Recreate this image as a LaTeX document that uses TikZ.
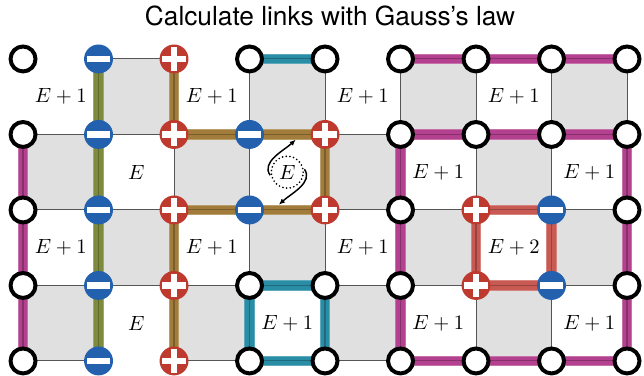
\documentclass[tikz,border=0pt]{standalone}
\usepackage{fontspec}
\newfontfamily\titlefont{TeX Gyre Heros}
\usepackage{xcolor}
\definecolor{cCell}{HTML}{E0E0E0}
\definecolor{cGrid}{HTML}{555555}
\definecolor{cPlus}{HTML}{BE3A2E}
\definecolor{cMinus}{HTML}{2360AE}
\definecolor{cOlive}{HTML}{7E8B3C}
\definecolor{cBrown}{HTML}{A27C3A}
\definecolor{cTeal}{HTML}{2A8DA6}
\definecolor{cMag}{HTML}{B4418F}
\definecolor{cRed}{HTML}{C95A53}
\usetikzlibrary{arrows.meta, backgrounds}

\begin{document}
\begin{tikzpicture}[x=2cm, y=2cm,
    site/.style={circle, draw=black, line width=3pt, fill=white,
                 minimum size=18.8pt, inner sep=0pt},
    charge/.style={circle, fill=#1, minimum size=21.8pt, inner sep=0pt},
    plussite/.style={charge=cPlus, path picture={
        \fill[white] ([xshift=-9pt, yshift=-2.6pt]path picture bounding box.center) rectangle ++(18pt,5.2pt);
        \fill[white] ([xshift=-2.6pt, yshift=-9pt]path picture bounding box.center) rectangle ++(5.2pt,18pt);}},
    minussite/.style={charge=cMinus, path picture={
        \fill[white] ([xshift=-9pt, yshift=-2.6pt]path picture bounding box.center) rectangle ++(18pt,5.2pt);}},
    cell/.style={fill=cCell, draw=cGrid, line width=0.75pt},
    lnk/.style={draw=#1!75!white, line width=8.2pt,
                postaction={draw=#1, line width=6.6pt},
                postaction={draw=#1!75!black, line width=0.8pt}},
    lbl/.style={scale=1.55},
    wig/.style={-{Latex[length=4.5pt, width=4pt]}, line width=1.1pt}
]
\useasboundingbox (-0.305,-0.199) rectangle (8.225,4.781);
\node[font=\titlefont\fontsize{19.8}{24}\selectfont, anchor=base] (title) at (4.066,4.437) {Calculate links with Gauss’s law};

% sites
\foreach \i in {0,5,8} \foreach \j in {0,...,4} \node[site] (v\i\j) at (\i,\j) {};
\foreach \i/\j in {3/0,3/1,3/4,4/0,4/1,4/4,6/0,6/3,6/4,7/0,7/3,7/4} \node[site] (v\i\j) at (\i,\j) {};
\foreach \j in {0,...,4} {
  \node[minussite] (v1\j) at (1,\j) {};
  \node[plussite] (v2\j) at (2,\j) {};
}
\foreach \i/\j in {4/2,4/3,6/1,6/2} \node[plussite] (v\i\j) at (\i,\j) {};
\foreach \i/\j in {3/2,3/3,7/1,7/2} \node[minussite] (v\i\j) at (\i,\j) {};

% plaquette labels
\foreach \c/\j/\t in {0/3/E+1, 2/3/E+1, 4/3/E+1, 6/3/E+1,
                      1/2/E, 5/2/E+1, 7/2/E+1,
                      0/1/E+1, 2/1/E+1, 4/1/E+1, 6/1/E+2,
                      1/0/E, 3/0/E+1, 5/0/E+1, 7/0/E+1}
  \node[lbl] (e\c\j) at (\c+0.5,\j+0.5) {$\t$};
\node[lbl, circle, draw, line width=1.4pt, dash pattern=on 0pt off 2.8pt, line cap=round,
      minimum size=15.5pt, inner sep=0pt] (e32) at (3.5,2.5) {$E$};
\coordinate (upTip) at ([shift={(0.22cm,0.86cm)}]e32.center);
\coordinate (dnTip) at ([shift={(-0.22cm,-0.86cm)}]e32.center);
\draw[wig] (e32.190) .. controls +(-0.25cm,0.35cm) and +(-0.3cm,-0.28cm) .. (upTip);
\draw[wig] (e32.10) .. controls +(0.25cm,-0.35cm) and +(0.3cm,0.28cm) .. (dnTip);

\begin{scope}[on background layer]
  \foreach \i in {0,...,7} \foreach \j in {0,...,3} {
    \ifodd\numexpr\i+\j\relax\else \draw[cell] (\i,\j) rectangle ++(1,1); \fi
  }
  \draw[lnk=cOlive] (v14.center) -- (v10.center);
  \draw[lnk=cBrown] (v24.center) -- (v23.center) -- (v43.center) -- (v42.center) -- (v22.center) -- (v20.center);
  \draw[lnk=cTeal] (v34.center) -- (v44.center);
  \draw[lnk=cTeal] (v31.center) -- (v41.center) -- (v40.center) -- (v30.center) -- cycle;
  \draw[lnk=cMag] (v03.center) -- (v00.center);
  \draw[lnk=cMag] (v54.center) -- (v84.center);
  \draw[lnk=cMag] (v53.center) -- (v83.center) -- (v80.center) -- (v50.center) -- cycle;
  \draw[lnk=cRed] (v62.center) -- (v72.center) -- (v71.center) -- (v61.center) -- cycle;
\end{scope}
\end{tikzpicture}
\end{document}
